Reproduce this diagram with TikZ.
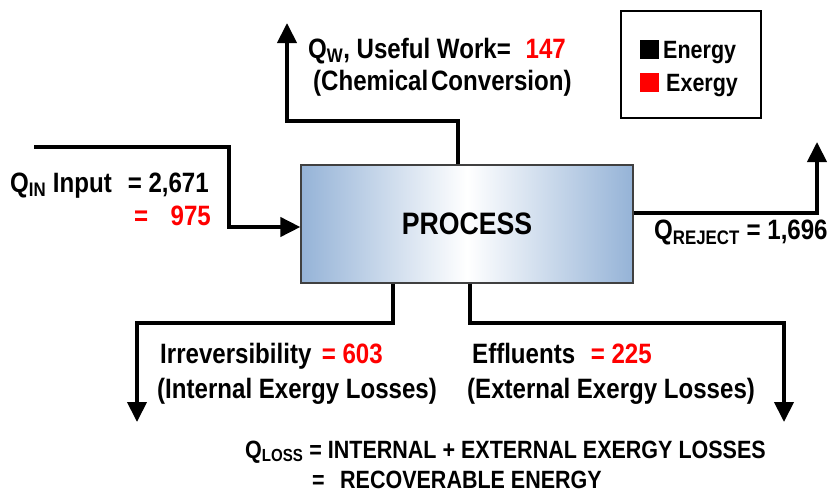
\documentclass[tikz,border=0pt]{standalone}
\usepackage{fontspec}
\setmainfont{Liberation Sans}[FakeStretch=0.86]
\usetikzlibrary{arrows.meta}
\definecolor{procblue}{RGB}{149,179,215}
\definecolor{exred}{RGB}{255,0,0}

\begin{document}
\begin{tikzpicture}[x=1pt,y=-1pt,
        flow/.style={line width=4pt, -{Triangle[length=20pt,width=19pt]}},
        lbl/.style={inner sep=0pt, anchor=base west, font=\fontsize{28}{32}\selectfont\bfseries},
        small/.style={lbl, font=\fontsize{25}{29}\selectfont\bfseries},
        keysq/.style={inner sep=0pt, minimum size=19pt}]
        \useasboundingbox (0,0) rectangle (830,493);

        \node[draw=black!75, line width=1.2pt, left color=procblue, right color=procblue, middle color=white, minimum width=332pt, minimum height=118pt, font=\fontsize{31}{36}\selectfont\bfseries] (proc) at (467,224) {PROCESS};

        \node[draw, line width=2pt, minimum width=140pt, minimum height=107pt] (key) at (691,64.5) {};
        \node[keysq, fill=black] (ksq1) at (649,49) {};
        \node[keysq, fill=exred] (ksq2) at (649,82) {};
        \node[small] (ken) at (663,58) {Energy};
        \node[small] (kex) at (666,91) {Exergy};

        \coordinate (inst) at (34,147);
        \coordinate (in1) at (229,147);
        \coordinate (in2) at (229,227);
        \coordinate (w1) at (458,121);
        \coordinate (w2) at (287,121);
        \coordinate (wtop) at (287,23);
        \coordinate (r1) at (817,213);
        \coordinate (rtop) at (817,142);
        \coordinate (l1) at (393,323);
        \coordinate (l2) at (137,323);
        \coordinate (lend) at (137,422);
        \coordinate (e1) at (470,323);
        \coordinate (e2) at (784,323);
        \coordinate (eend) at (784,422);

        \draw[flow] (inst) -- (in1) -- (in2) -- (in2 -| proc.west);
        \draw[flow] (proc.north -| w1) -- (w1) -- (w2) -- (wtop);
        \draw[flow] (proc.east |- r1) -- (r1) -- (rtop);
        \draw[flow] (proc.south -| l1) -- (l1) -- (l2) -- (lend);
        \draw[flow] (proc.south -| e1) -- (e1) -- (e2) -- (eend);

        \node[lbl] (qin) at (10,192) {Q\textsubscript{IN} Input};
        \node[lbl, anchor=base east] (qinen) at (209,192) {= 2,671};
        \node[lbl, anchor=base east, text=exred] (qinex) at (211,225) {=\hspace{0.8em}975};

        \node[lbl] (qw) at (308,58) {Q\textsubscript{W}, Useful Work=};
        \node[lbl, anchor=base east, text=exred] (qwex) at (566,58) {147};
        \node[lbl] (qwnote) at (313,90) {(Chemical\hspace{0.1em}Conversion)};

        \node[lbl] (qrej) at (654,239) {Q\textsubscript{REJECT} = 1,696};

        \node[lbl] (irr) at (160,363) {Irreversibility};
        \node[lbl, anchor=base east, text=exred] (irrex) at (383,363) {= 603};
        \node[lbl] (irrnote) at (157,398) {(Internal Exergy Losses)};

        \node[lbl] (eff) at (472,363) {Effluents};
        \node[lbl, anchor=base east, text=exred] (effex) at (652,363) {= 225};
        \node[lbl] (effnote) at (467,398) {(External Exergy Losses)};

        \node[small] (qloss) at (245,458) {Q\textsubscript{LOSS} = INTERNAL + EXTERNAL EXERGY LOSSES};
        \node[small] (qlosseq) at (312,488) {=};
        \node[small] (qrec) at (340,488) {RECOVERABLE ENERGY};
\end{tikzpicture}
\end{document}
